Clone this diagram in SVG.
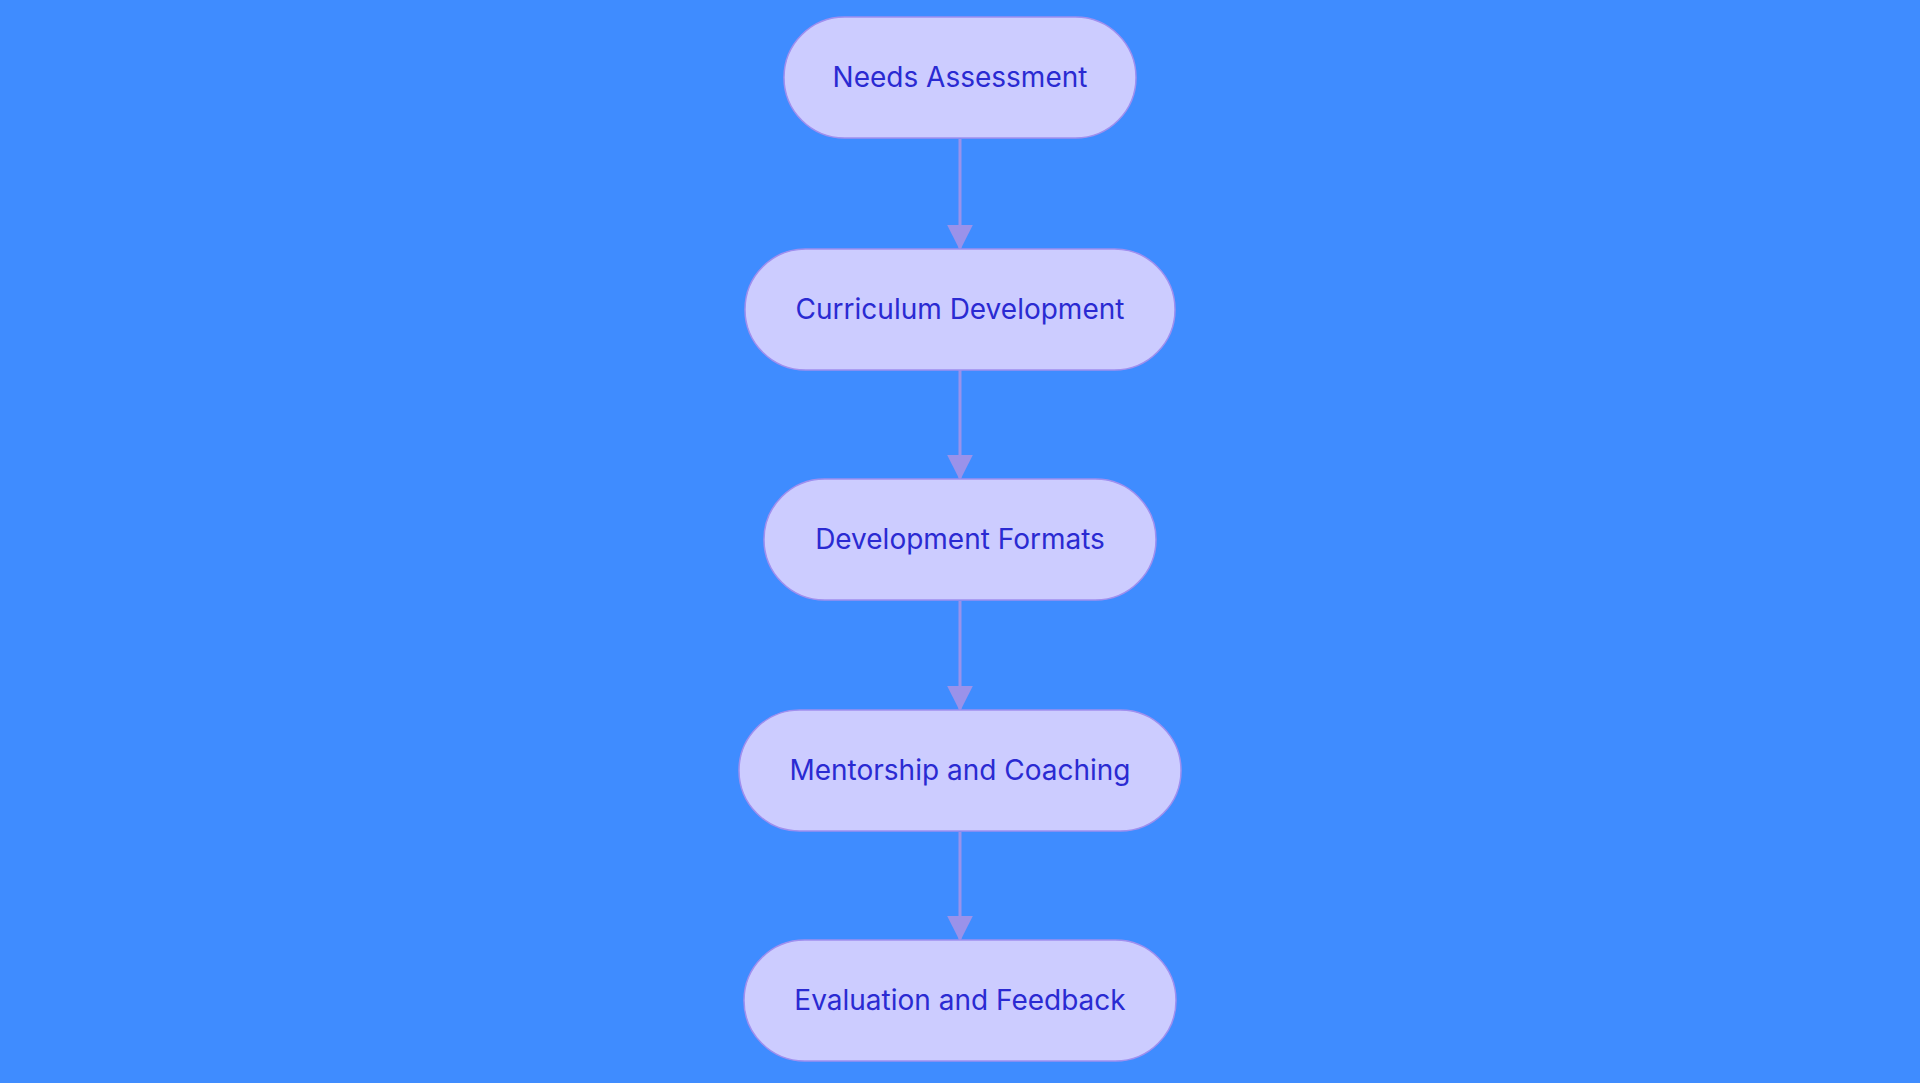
<svg xmlns="http://www.w3.org/2000/svg" width="1920" height="1083" viewBox="0 0 1920 1083">
<style>
.n rect{fill:#ccccff;stroke:#9f8fef;stroke-width:1.5}
.n text{font-family:Inter,"Noto Sans",sans-serif;font-size:28px;fill:#2a2ad2;text-anchor:middle;dominant-baseline:central}
.e line{stroke:#9a92ea;stroke-width:3}
</style>
<defs><marker id="a" viewBox="0 0 10 10" refX="9" refY="5" markerWidth="9" markerHeight="9" markerUnits="userSpaceOnUse" orient="auto"><path d="M0,0L10,5L0,10z" fill="#9a92ea"/></marker>
<marker id="b" viewBox="0 0 10 10" refX="9" refY="5" markerWidth="26" markerHeight="26" markerUnits="userSpaceOnUse" orient="auto"><path d="M0,0L10,5L0,10z" fill="#9a92ea"/></marker></defs>
<rect width="1920" height="1083" fill="#3f8cff"/>
<g class="e">
<line x1="960" y1="139" x2="960" y2="248" marker-end="url(#b)"/>
<line x1="960" y1="370" x2="960" y2="478" marker-end="url(#b)"/>
<line x1="960" y1="601" x2="960" y2="709" marker-end="url(#b)"/>
<line x1="960" y1="832" x2="960" y2="939" marker-end="url(#b)"/>
</g>
<g class="n" id="n1"><rect x="784" y="17" width="352" height="121" rx="60.5"/><text x="960" y="77">Needs Assessment</text></g>
<g class="n" id="n2"><rect x="745" y="249" width="430" height="121" rx="60.5"/><text x="960" y="309">Curriculum Development</text></g>
<g class="n" id="n3"><rect x="764" y="479" width="392" height="121" rx="60.5"/><text x="960" y="539">Development Formats</text></g>
<g class="n" id="n4"><rect x="739" y="710" width="442" height="121" rx="60.5"/><text x="960" y="770">Mentorship and Coaching</text></g>
<g class="n" id="n5"><rect x="744" y="940" width="432" height="121" rx="60.5"/><text x="960" y="1000">Evaluation and Feedback</text></g>
</svg>
